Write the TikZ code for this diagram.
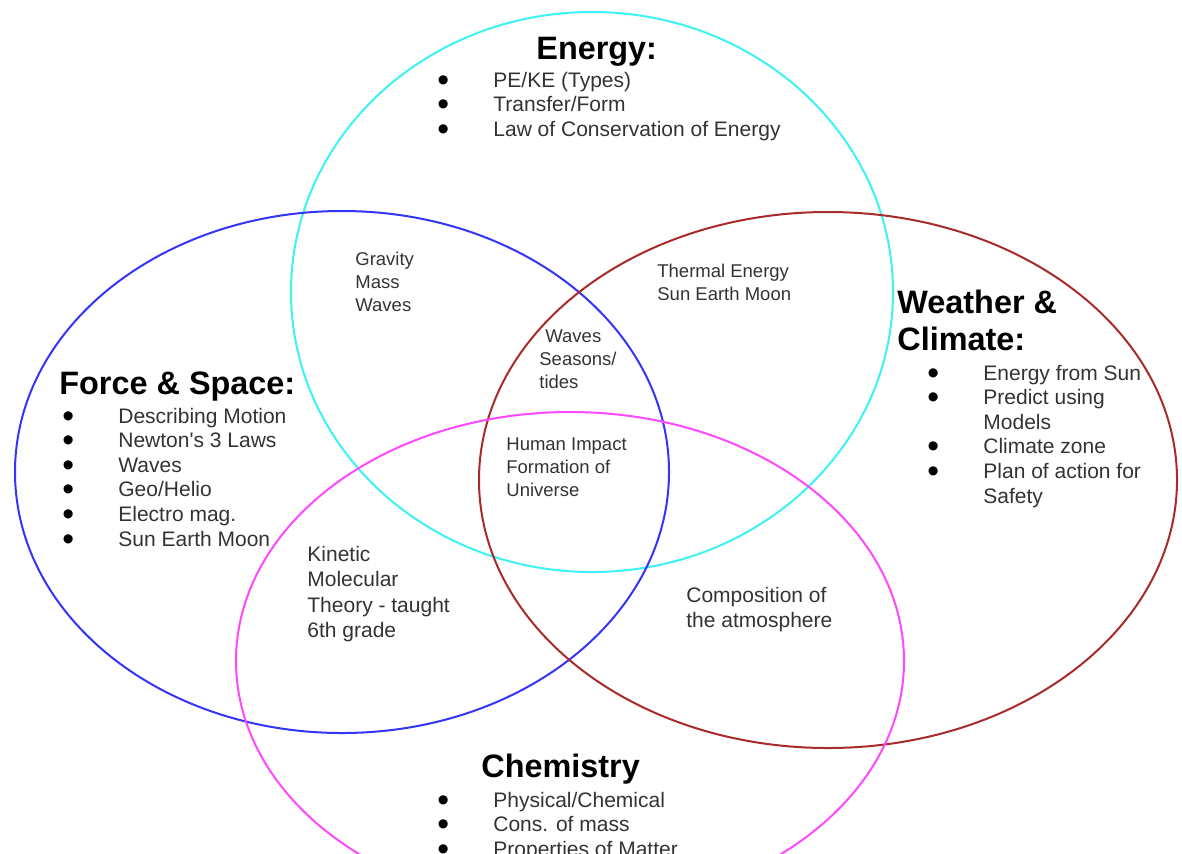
\documentclass[tikz,border=0pt]{standalone}
\usepackage{fontspec}
\setmainfont{Liberation Sans}
\usepackage{graphicx}
\usepackage{tikz}
\definecolor{ringcyan}{RGB}{60,242,245}
\definecolor{ringblue}{RGB}{52,52,250}
\definecolor{ringred}{RGB}{168,42,42}
\definecolor{ringmagenta}{RGB}{255,72,255}
\colorlet{bodytext}{black!80}
\tikzset{ring/.style = {line width=1pt}}
\tikzset{heading/.style = {font=\fontsize{16.2}{18.5}\selectfont\bfseries, anchor=base west, inner sep=0pt}}
\tikzset{itemlist/.style = {font=\fontsize{10.5}{12.3}\selectfont, anchor=base west, inner sep=0pt, text=bodytext}}
\tikzset{overlap/.style = {font=\fontsize{9.25}{11.5}\selectfont, anchor=base west, inner sep=0pt, text=bodytext}}
\tikzset{midtext/.style = {font=\fontsize{10.5}{12.8}\selectfont, anchor=base west, inner sep=0pt, text=bodytext}}
\newcommand{\itemdot}{\smash{\textcolor{black}{\raisebox{-2pt}{\scalebox{1.6}{\textbullet}}}}}
\newcommand{\dotlist}[1]{\begin{tabular}[t]{@{}p{28pt}@{}l@{}}#1\end{tabular}}
\newcommand{\lines}[1]{\begin{tabular}[t]{@{}l@{}}#1\end{tabular}}

\begin{document}
\begin{tikzpicture}[x=0.5pt,y=-0.5pt]
                    \path[use as bounding box] (0,0) rectangle (1182,853);
                    \clip (0,0) rectangle (1182,853);

                    % the four circles
                    \draw[ring, ringcyan] (592,292) ellipse [x radius=301, y radius=280];
                    \draw[ring, ringblue] (342,472) ellipse [x radius=327, y radius=261];
                    \draw[ring, ringred] (828,480) ellipse [x radius=349, y radius=268];
                    \draw[ring, ringmagenta] (570,661) ellipse [x radius=334, y radius=249];

                    % headings and lists
                    \node[heading] (energyTitle) at (536,59) {Energy:};
                    \node[itemlist] (energyList) at (437,87) {\dotlist{
                        \itemdot & PE/KE (Types)\\
                        \itemdot & Transfer/Form\\
                        \itemdot & Law of Conservation of Energy}};

                    \node[heading] (forceTitle) at (59,394) {Force \& Space:};
                    \node[itemlist] (forceList) at (62,423) {\dotlist{
                        \itemdot & Describing Motion\\
                        \itemdot & Newton\textquotesingle s 3 Laws\\
                        \itemdot & Waves\\
                        \itemdot & Geo/Helio\\
                        \itemdot & Electro mag.\\
                        \itemdot & Sun Earth Moon}};

                    \node[heading] (weatherTitle) at (897,313) {\lines{Weather \&\\Climate:}};
                    \node[itemlist] (weatherList) at (927,380) {\dotlist{
                        \itemdot & Energy from Sun\\
                        \itemdot & Predict using\\
                                 & Models\\
                        \itemdot & Climate zone\\
                        \itemdot & Plan of action for\\
                                 & Safety}};

                    \node[heading] (chemTitle) at (481,777) {Chemistry};
                    \node[itemlist] (chemList) at (437,807) {\dotlist{
                        \itemdot & Physical/Chemical\\
                        \itemdot & Cons. of mass\\
                        \itemdot & Properties of Matter}};

                    % overlaps
                    \node[overlap] (gravityText) at (355,265) {\lines{Gravity\\Mass\\Waves}};
                    \node[overlap] (thermalText) at (657,277) {\lines{Thermal Energy\\Sun Earth Moon}};
                    \node[overlap] (seasonsText) at (539,342) {\lines{\hspace*{3pt}Waves\\Seasons/\\tides}};
                    \node[overlap] (humanText) at (506,450) {\lines{Human Impact\\Formation of\\Universe}};
                    \node[midtext] (kineticText) at (307,561) {\lines{Kinetic\\Molecular\\Theory - taught\\6th grade}};
                    \node[midtext] (compositionText) at (686,602) {\lines{Composition of\\the atmosphere}};
                \end{tikzpicture}
\end{document}
